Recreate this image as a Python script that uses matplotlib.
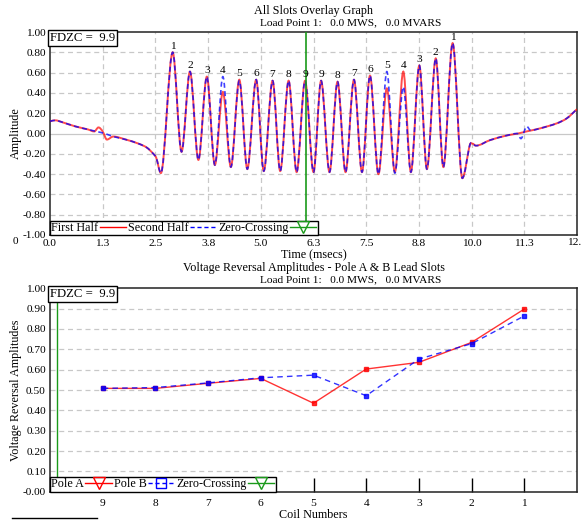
import matplotlib
matplotlib.use("Agg")
import matplotlib.pyplot as plt
from matplotlib.lines import Line2D
from matplotlib.path import Path
from matplotlib.patches import PathPatch
import numpy as np

plt.rcParams['font.family'] = ['Liberation Serif', 'DejaVu Serif']
FS = 8.2

# ---------------- Top chart data ----------------
peak_times = [2.91, 3.32, 3.72, 4.10, 4.49, 4.89, 5.28, 5.66, 6.05,
              6.43, 6.82, 7.21, 7.59, 7.99, 8.38, 8.76, 9.15, 9.55]
peak_labels = ['1', '2', '3', '4', '5', '6', '7', '8', '9',
               '9', '8', '7', '6', '5', '4', '3', '2', '1']
first_half_peaks = [0.80, 0.61, 0.56, 0.41, 0.53, 0.53, 0.52, 0.52, 0.52,
                    0.52, 0.51, 0.53, 0.57, 0.445, 0.61, 0.67, 0.74, 0.89]
second_half_peaks = [0.80, 0.61, 0.56, 0.56, 0.52, 0.53, 0.52, 0.52, 0.52,
                     0.52, 0.51, 0.53, 0.57, 0.61, 0.46, 0.67, 0.74, 0.89]
trough_times = [2.63, 3.12, 3.52, 3.91, 4.29, 4.68, 5.07, 5.46, 5.85, 6.25,
                6.63, 7.01, 7.40, 7.79, 8.18, 8.56, 8.94, 9.33, 9.78]
first_half_troughs = [-0.39, -0.18, -0.26, -0.31, -0.33, -0.35, -0.37, -0.37, -0.38, -0.38,
                      -0.38, -0.38, -0.38, -0.40, -0.38, -0.38, -0.35, -0.33, -0.44]
second_half_troughs = [-0.39, -0.18, -0.26, -0.31, -0.33, -0.35, -0.37, -0.37, -0.38, -0.38,
                       -0.38, -0.38, -0.38, -0.40, -0.39, -0.38, -0.35, -0.33, -0.44]

first_lead_t = [0.0, 0.12, 0.3, 0.6, 0.9, 1.05, 1.15, 1.25, 1.35, 1.5, 1.8, 2.1, 2.3, 2.45, 2.52]
first_lead_v = [0.12, 0.13, 0.11, 0.07, 0.04, 0.02, 0.06, 0.02, -0.06, -0.03, -0.06, -0.10, -0.14, -0.20, -0.24]
second_lead_t = [0.0, 0.12, 0.3, 0.6, 0.9, 1.1, 1.3, 1.5, 1.8, 2.1, 2.3, 2.45, 2.52]
second_lead_v = [0.12, 0.13, 0.11, 0.07, 0.04, 0.02, 0.00, -0.03, -0.06, -0.10, -0.14, -0.20, -0.24]

first_tail_t = [9.96, 10.02, 10.1, 10.44, 10.83, 11.1, 11.3, 11.62, 12.02, 12.26, 12.5]
first_tail_v = [-0.11, -0.10, -0.12, -0.065, -0.02, 0.00, 0.02, 0.05, 0.10, 0.15, 0.24]
second_tail_t = [9.96, 10.02, 10.1, 10.44, 10.83, 11.08, 11.17, 11.31, 11.4, 11.62, 12.02, 12.26, 12.5]
second_tail_v = [-0.11, -0.10, -0.12, -0.065, -0.02, 0.00, -0.05, 0.07, 0.03, 0.05, 0.10, 0.15, 0.24]

zero_cross_time = [6.07]
fdzc_value = 9.9
time_ticks = [0, 1.25, 2.5, 3.75, 5.0, 6.25, 7.5, 8.75, 10.0, 11.25, 12.5]
time_tick_labels = ['0.0', '1.3', '2.5', '3.8', '5.0', '6.3', '7.5', '8.8', '10.0', '11.3', '12.']

# ---------------- Bottom chart data ----------------
coils = ['9', '8', '7', '6', '5', '4', '3', '2', '1']
pole_a = [0.508, 0.508, 0.533, 0.557, 0.435, 0.603, 0.636, 0.734, 0.898]
pole_b = [0.508, 0.512, 0.535, 0.560, 0.573, 0.472, 0.652, 0.728, 0.864]
zero_cross_coilpos = [0.13]


def build(lead_t, lead_v, pt, pv, tt, tv, tail_t, tail_v):
    t = list(lead_t)
    v = list(lead_v)
    for i in range(len(tt)):
        t.append(tt[i]); v.append(tv[i])
        if i < len(pt):
            t.append(pt[i]); v.append(pv[i])
    t += tail_t
    v += tail_v
    return t, v


def smooth_path(t, v):
    """Bezier path through the read points; flat tangents at local extrema."""
    n = len(t)
    m = [0.0] * n
    for i in range(n):
        if i == 0:
            m[i] = (v[1] - v[0]) / (t[1] - t[0])
        elif i == n - 1:
            m[i] = (v[-1] - v[-2]) / (t[-1] - t[-2])
        else:
            d0 = v[i] - v[i - 1]
            d1 = v[i + 1] - v[i]
            if d0 * d1 <= 0:
                m[i] = 0.0
            else:
                m[i] = (v[i + 1] - v[i - 1]) / (t[i + 1] - t[i - 1])
    verts = [(t[0], v[0])]
    codes = [Path.MOVETO]
    for i in range(n - 1):
        h = t[i + 1] - t[i]
        verts += [(t[i] + h / 3, v[i] + m[i] * h / 3),
                  (t[i + 1] - h / 3, v[i + 1] - m[i + 1] * h / 3),
                  (t[i + 1], v[i + 1])]
        codes += [Path.CURVE4] * 3
    return Path(verts, codes)


W, H = 582, 521
fig = plt.figure(figsize=(W / 100, H / 100), dpi=100)

def axrect(l, r, t, b):
    return [l / W, 1 - b / H, (r - l) / W, (b - t) / H]

RED = '#ff0000'
BLUE = '#0000ff'
GREEN = '#1a9a1a'
GRID = '#c8c8c8'

# ===================== Top axes =====================
ax1 = fig.add_axes(axrect(50, 577, 32, 235))
ax1.set_xlim(0, 12.5)
ax1.set_ylim(-1, 1)

for x in time_ticks[1:-1]:
    ax1.axvline(x, color=GRID, lw=0.9, dashes=(4, 3), zorder=0)
for y in np.arange(-0.8, 0.81, 0.2):
    if abs(y) < 1e-9:
        ax1.axhline(0, color=GRID, lw=0.9, zorder=0)
    else:
        ax1.axhline(y, color=GRID, lw=0.9, dashes=(4, 3), zorder=0)

ft, fv = build(first_lead_t, first_lead_v, peak_times, first_half_peaks,
               trough_times, first_half_troughs, first_tail_t, first_tail_v)
st, sv = build(second_lead_t, second_lead_v, peak_times, second_half_peaks,
               trough_times, second_half_troughs, second_tail_t, second_tail_v)
ax1.add_patch(PathPatch(smooth_path(ft, fv), fill=False, ec=RED, lw=1.4, alpha=0.7, zorder=3))
ax1.add_patch(PathPatch(smooth_path(st, sv), fill=False, ec=BLUE, lw=1.2, alpha=0.75,
                        linestyle=(0, (3, 2)), zorder=4))
ax1.axvline(zero_cross_time[0], color=GREEN, lw=1.2, zorder=5)

for t, a, b, lab in zip(peak_times, first_half_peaks, second_half_peaks, peak_labels):
    ax1.text(t, max(a, b) + 0.015, lab, ha='center', va='bottom', fontsize=FS, zorder=6)

ax1.set_xticks(time_ticks)
ax1.set_xticklabels(time_tick_labels[:-1] + [''], fontsize=FS)
# last tick label, nudged left so its dot stays on the canvas like the original
ax1.annotate(time_tick_labels[-1], xy=(time_ticks[-1], 0), xycoords=('data', 'axes fraction'),
             xytext=(-3, -3), textcoords='offset pixels', ha='center', va='top',
             fontsize=FS, annotation_clip=False)
yt = np.round(np.arange(-1.0, 1.01, 0.2), 2)
ax1.set_yticks(yt)
ax1.set_yticklabels(['%.2f' % v if abs(v) > 1e-9 else '0.00' for v in yt], fontsize=FS)
ax1.tick_params(length=0, pad=3)
ax1.set_xlabel('Time (msecs)', fontsize=FS + 0.5, labelpad=1)
ax1.set_ylabel('Amplitude', fontsize=FS + 0.5)
ax1.yaxis.set_label_coords(-28 / 527, 0.5)
for s in ax1.spines.values():
    s.set_linewidth(1.1)
    s.set_color('#222222')

ax1.text(0.0, 1.0, 'FDZC =  %.1f' % fdzc_value, transform=ax1.transAxes, ha='left', va='top',
         fontsize=FS + 1, zorder=10,
         bbox=dict(boxstyle='square,pad=0.15', fc='white', ec='black', lw=1.0))

h1 = [Line2D([], [], color=RED, lw=1),
      Line2D([], [], color=BLUE, lw=1, dashes=(3, 2)),
      Line2D([], [], color=GREEN, lw=1, marker='v', mfc='none', mec=GREEN, ms=8)]
leg1 = ax1.legend(h1, ['First Half', 'Second Half', 'Zero-Crossing'], loc='lower left', ncol=3,
                  markerfirst=False, frameon=True, fancybox=False, edgecolor='black', framealpha=1,
                  borderpad=0.1, handletextpad=0.1, columnspacing=0.15, handlelength=2.2,
                  borderaxespad=0, fontsize=FS + 0.5, numpoints=1)
leg1.get_frame().set_linewidth(1.0)
leg1.set_zorder(10)

fig.text(313 / W, 1 - 11 / H, 'All Slots Overlay Graph', ha='center', va='center', fontsize=FS + 0.5)
fig.text(351 / W, 1 - 23 / H, 'Load Point 1:   0.0 MWS,   0.0 MVARS', ha='center', va='center', fontsize=FS)
fig.text(15 / W, 1 - 242 / H, '0', ha='center', va='center', fontsize=FS)

# ===================== Bottom axes =====================
ax2 = fig.add_axes(axrect(50, 577, 288.3, 491.7))
ax2.set_xlim(0, 10)
ax2.set_ylim(0, 1)
for y in np.arange(0.1, 0.95, 0.1):
    ax2.axhline(y, color=GRID, lw=0.9, dashes=(4, 3), zorder=0)

pos = np.arange(1, len(coils) + 1)
ax2.plot(pos, pole_a, color=RED, lw=1.0, alpha=0.8, marker='s', ms=2.2, mfc=RED, mec=RED, zorder=3)
ax2.plot(pos, pole_b, color=BLUE, lw=1.0, alpha=0.8, dashes=(4, 3), marker='s', ms=2.2,
         mfc=BLUE, mec=BLUE, zorder=4)
ax2.axvline(zero_cross_coilpos[0], color=GREEN, lw=1.0, zorder=5)

ax2.set_xticks(pos)
ax2.set_xticklabels(coils, fontsize=FS)
ax2.tick_params(axis='x', direction='in', length=10, width=1, color='black', pad=5)
yt2 = np.round(np.arange(0, 1.01, 0.1), 2)
ax2.set_yticks(yt2)
ax2.set_yticklabels(['-0.00'] + ['%.2f' % v for v in yt2[1:]], fontsize=FS)
ax2.tick_params(axis='y', length=0, pad=3)
ax2.set_xlabel('Coil Numbers', fontsize=FS + 0.5, labelpad=1)
ax2.set_ylabel('Voltage Reversal Amplitudes', fontsize=FS + 0.5)
ax2.yaxis.set_label_coords(-28 / 527, 0.5)
for s in ax2.spines.values():
    s.set_linewidth(1.1)
    s.set_color('#222222')

ax2.text(0.0, 1.0, 'FDZC =  %.1f' % fdzc_value, transform=ax2.transAxes, ha='left', va='top',
         fontsize=FS + 1, zorder=10,
         bbox=dict(boxstyle='square,pad=0.15', fc='white', ec='black', lw=1.0))

h2 = [Line2D([], [], color=RED, lw=1, marker='v', mfc='none', mec=RED, ms=8),
      Line2D([], [], color=BLUE, lw=1, dashes=(3, 2), marker='s', mfc='none', mec=BLUE, ms=7),
      Line2D([], [], color=GREEN, lw=1, marker='v', mfc='none', mec=GREEN, ms=8)]
leg2 = ax2.legend(h2, ['Pole A', 'Pole B', 'Zero-Crossing'], loc='lower left', ncol=3,
                  markerfirst=False, frameon=True, fancybox=False, edgecolor='black', framealpha=1,
                  borderpad=0.1, handletextpad=0.1, columnspacing=0.15, handlelength=2.2,
                  borderaxespad=0, fontsize=FS + 0.5, numpoints=1)
leg2.get_frame().set_linewidth(1.0)
leg2.set_zorder(10)

fig.text(314 / W, 1 - 268 / H, 'Voltage Reversal Amplitudes - Pole A & B Lead Slots',
         ha='center', va='center', fontsize=FS + 0.5)
fig.text(351 / W, 1 - 280 / H, 'Load Point 1:   0.0 MWS,   0.0 MVARS', ha='center', va='center', fontsize=FS)

fig.add_artist(Line2D([12 / W, 97 / W], [1 - 518 / H, 1 - 518 / H], color='black', lw=1))

fig.savefig('out.png', dpi=100)
